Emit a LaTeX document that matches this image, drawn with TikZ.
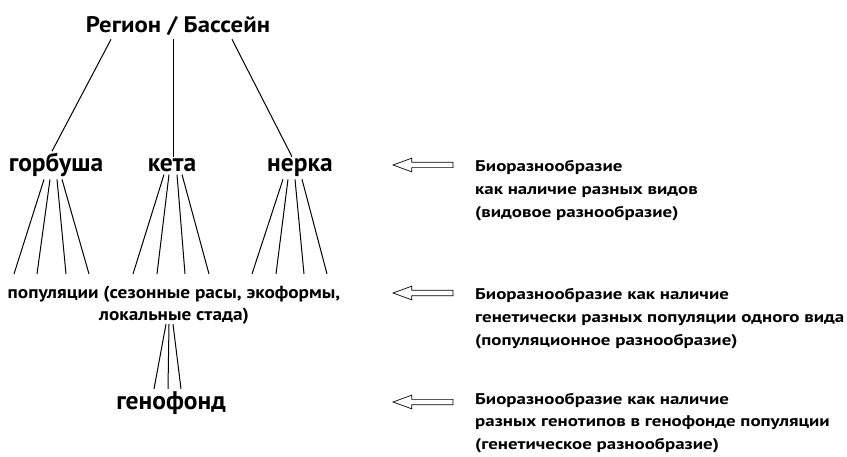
\documentclass[tikz,border=0pt]{standalone}
\usepackage{fontspec}
\setmainfont{PT Sans}
\usetikzlibrary{shapes.arrows}
\tikzset{
  big/.style={font=\bfseries\fontsize{25.5}{30}\selectfont,inner sep=2pt},
  top/.style={font=\bfseries\addfontfeature{FakeStretch=1.1}\fontsize{22.5}{26}\selectfont,inner sep=3pt},
  pops/.style={font=\bfseries\addfontfeature{FakeStretch=1.1}\fontsize{17.5}{21.5}\selectfont,align=center,inner sep=0pt},
  note/.style={font=\bfseries\addfontfeature{FakeStretch=1.22}\fontsize{15.5}{23.2}\selectfont,align=left,inner sep=0pt,anchor=north west},
  hollow/.style={single arrow,draw,line width=0.7pt,shape border rotate=180,anchor=tip,
    minimum height=60pt,inner sep=2.3pt,single arrow head extend=4.2pt,single arrow tip angle=40},
  twig/.style={line width=1pt}
}
\begin{document}
\begin{tikzpicture}[x=1pt,y=1pt]
        \useasboundingbox (0,0) rectangle (847,456);
        \node[top,anchor=base] (reg) at (178,423){Регион / Бассейн};
        \node[big,anchor=base] (gorb) at (56,284){горбуша};
        \node[big,anchor=base] (keta) at (172,284){кета};
        \node[big,anchor=base] (nerk) at (300,284){нерка};
        \node[pops,anchor=north] (pop) at (174,170){популяции (сезонные расы, экоформы,\\локальные стада)};
        \node[big,anchor=base] (gen) at (171,47){генофонд};
        \draw[twig] ([xshift=-67pt]reg.south) -- ([xshift=-4pt]gorb.north);
        \draw[twig] ([xshift=-5pt]reg.south) -- ([xshift=1pt]keta.north);
        \draw[twig] ([xshift=54pt]reg.south) -- ([xshift=-8pt]nerk.north);
        \foreach \a/\b in {-12/-160,-6/-137,1/-108,6/-85}
          \draw[twig] ([xshift=\a pt]gorb.south) -- ([xshift=\b pt,yshift=12pt]pop.north);
        \foreach \a/\b in {-8/-41,-3/-17,5/11,10/35}
          \draw[twig] ([xshift=\a pt]keta.south) -- ([xshift=\b pt,yshift=12pt]pop.north);
        \foreach \a/\b in {-17/78,-12/102,-5/130,2/153}
          \draw[twig] ([xshift=\a pt]nerk.south) -- ([xshift=\b pt,yshift=12pt]pop.north);
        \foreach \a/\b in {-8/-17,-5/-3,-1/10}
          \draw[twig] ([xshift=\a pt]pop.south) -- ([xshift=\b pt]gen.north);
        \node[hollow] (ar1) at (392,291){};
        \node[hollow] (ar2) at (392,163){};
        \node[hollow] (ar3) at (392,54){};
        \node[note] (txt1) at (475,296){Биоразнообразие\\как наличие разных видов\\(видовое разнообразие)};
        \node[note] (txt2) at (475,168){Биоразнообразие как наличие\\генетически разных популяции одного вида\\(популяционное разнообразие)};
        \node[note,font=\bfseries\addfontfeature{FakeStretch=1.22}\fontsize{15.5}{22.4}\selectfont] (txt3) at (475,63){Биоразнообразие как наличие\\разных генотипов в генофонде популяции\\(генетическое разнообразие)};
\end{tikzpicture}
\end{document}
